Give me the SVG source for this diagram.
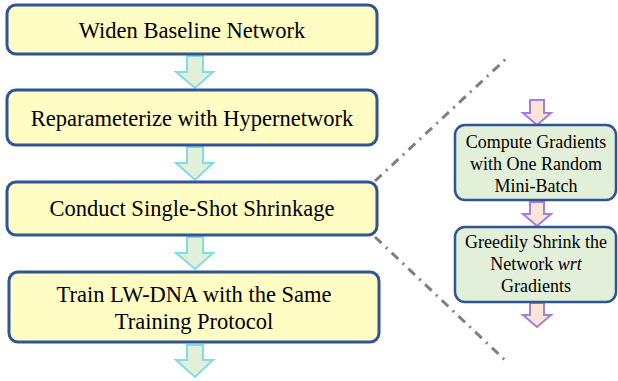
<svg xmlns="http://www.w3.org/2000/svg" width="618" height="381" viewBox="0 0 618 381">
<style>
.main{fill:#FFFCC4;stroke:#2F5597;stroke-width:3}
.sub{fill:#E2EFD9;stroke:#2F5597;stroke-width:2.5}
.ca{fill:#E2EFD9;stroke:#7FDCEB;stroke-width:2}
.pa{fill:#FCE4D6;stroke:#A07FE0;stroke-width:2}
.dd{fill:none;stroke:#7F7F7F;stroke-width:3;stroke-dasharray:9 6 2 6}
</style>
<rect width="618" height="381" fill="#fff"/>
<g id="connectors">
<path class="ca" d="M187,56 H203 V72 H213 L195,88 L176,72 H187 Z"/>
<path class="ca" d="M187,147 H203 V163 H213 L195,180 L176,163 H187 Z"/>
<path class="ca" d="M187,237 H203 V253 H213 L195,269 L176,253 H187 Z"/>
<path class="ca" d="M187,345 H203 V360 H213 L195,377 L176,360 H187 Z"/>
<path class="pa" d="M530,100 H544 V113 H551 L537,125 L523,113 H530 Z"/>
<path class="pa" d="M530,202 H544 V214 H551 L537,226 L523,214 H530 Z"/>
<path class="pa" d="M530,303 H544 V315 H551 L537,327 L523,315 H530 Z"/>
<path class="dd" d="M375,181 L508,57"/>
<path class="dd" d="M375,237 L508,363"/>
</g>
<g font-family="Liberation Serif, Times New Roman, serif" fill="#000" text-anchor="middle">
<g id="n1" font-size="22.5"><rect class="main" x="7" y="5" width="370" height="49" rx="9"/><text x="192" y="38">Widen Baseline Network</text></g>
<g id="n2" font-size="22.5"><rect class="main" x="7" y="90" width="370" height="55" rx="9"/><text x="192" y="125.5">Reparameterize with Hypernetwork</text></g>
<g id="n3" font-size="22.5"><rect class="main" x="7" y="182" width="370" height="53" rx="9"/><text x="192" y="216">Conduct Single-Shot Shrinkage</text></g>
<g id="n4" font-size="22.5"><rect class="main" x="9" y="272" width="370" height="70" rx="9"/><text x="194" y="302">Train LW-DNA with the Same</text><text x="194" y="329">Training Protocol</text></g>
<g id="s1" font-size="18"><rect class="sub" x="455" y="125" width="161" height="75" rx="10"/><text x="536" y="148">Compute Gradients</text><text x="536" y="170">with One Random</text><text x="536" y="192">Mini-Batch</text></g>
<g id="s2" font-size="18"><rect class="sub" x="455" y="227" width="161" height="75" rx="10"/><text x="536" y="248">Greedily Shrink the</text><text x="536" y="270">Network <tspan font-style="italic">wrt</tspan></text><text x="536" y="292">Gradients</text></g>
</g>
</svg>
